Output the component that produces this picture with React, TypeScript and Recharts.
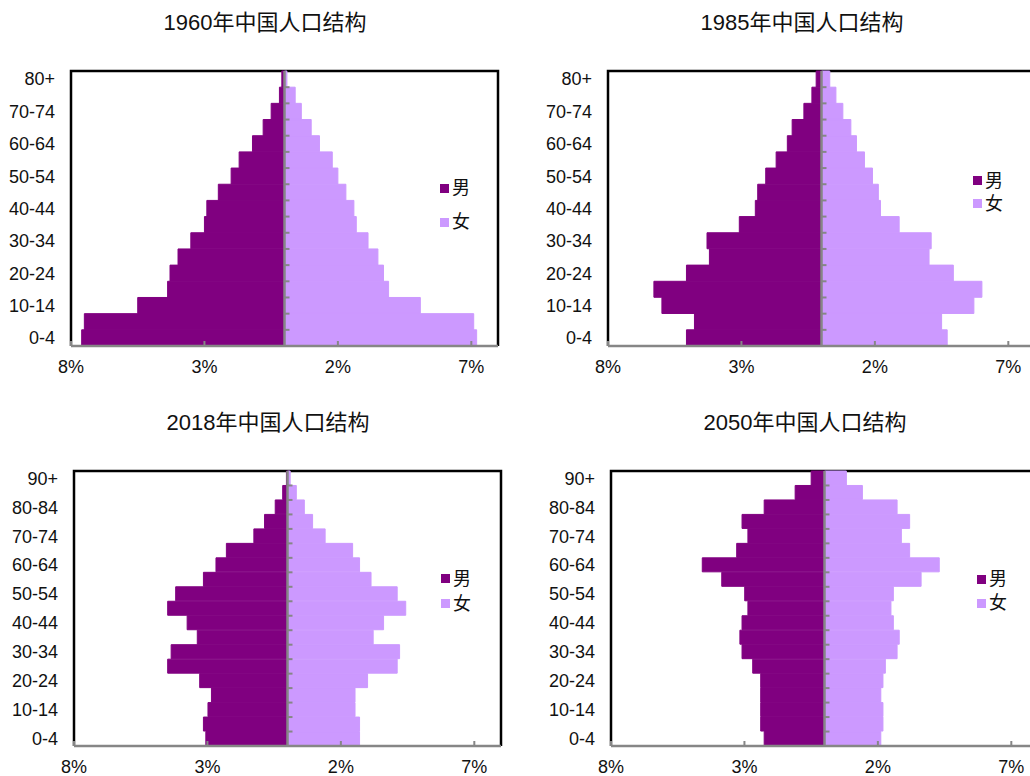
import React from "react";
import {
  BarChart,
  Bar,
  XAxis,
  YAxis,
  ReferenceLine,
  ReferenceArea,
  Legend,
} from "recharts";

// age groups, bottom to top
const ages17 = [
  "0-4", "5-9", "10-14", "15-19", "20-24", "25-29", "30-34", "35-39", "40-44",
  "45-49", "50-54", "55-59", "60-64", "65-69", "70-74", "75-79", "80+",
];
const ages19 = [
  "0-4", "5-9", "10-14", "15-19", "20-24", "25-29", "30-34", "35-39", "40-44",
  "45-49", "50-54", "55-59", "60-64", "65-69", "70-74", "75-79", "80-84",
  "85-89", "90+",
];

// male shares are negative so they sit left of the axis
const male1960 = [-7.6, -7.5, -5.5, -4.38, -4.29, -3.99, -3.51, -3.0, -2.91, -2.48, -2.0, -1.7, -1.2, -0.8, -0.5, -0.19, -0.1];
const female1960 = [7.2, 7.09, 5.09, 3.9, 3.71, 3.5, 3.13, 2.69, 2.6, 2.3, 2.0, 1.79, 1.31, 1.0, 0.63, 0.4, 0.09];

const male1985 = [-5.06, -4.76, -5.98, -6.28, -5.06, -4.2, -4.29, -3.08, -2.48, -2.39, -2.09, -1.7, -1.28, -1.1, -0.66, -0.36, -0.2];
const female1985 = [4.71, 4.5, 5.71, 6.01, 4.94, 4.03, 4.11, 2.91, 2.21, 2.13, 1.91, 1.61, 1.31, 1.1, 0.8, 0.54, 0.31];

const male2018 = [-3.06, -3.15, -2.98, -2.85, -3.29, -4.49, -4.36, -3.38, -3.76, -4.49, -4.19, -3.15, -2.68, -2.29, -1.26, -0.86, -0.46, -0.18, -0.04];
const female2018 = [2.7, 2.7, 2.53, 2.53, 3.0, 4.11, 4.2, 3.21, 3.6, 4.43, 4.11, 3.13, 2.7, 2.44, 1.41, 0.94, 0.63, 0.33, 0.1];

const male2050 = [-2.26, -2.39, -2.39, -2.39, -2.39, -2.69, -3.09, -3.17, -3.09, -2.87, -2.99, -3.85, -4.58, -3.29, -2.87, -3.09, -2.26, -1.1, -0.5];
const female2050 = [2.11, 2.19, 2.19, 2.11, 2.19, 2.28, 2.72, 2.8, 2.58, 2.49, 2.58, 3.62, 4.3, 3.19, 2.88, 3.19, 2.72, 1.42, 0.82];

const xTicks = [-8, -3, 2, 7];

const MALE = "#800080";
const FEMALE = "#CC99FF";
const GRAY = "#868686";
const FONT = "'Liberation Sans', Arial, 'Noto Sans CJK SC', sans-serif";

const XTick = (props: any) => {
  const { x, y, payload } = props;
  return (
    <g>
      <line x1={x} x2={x} y1={y} y2={y - 5} stroke={GRAY} strokeWidth={2} />
      <text x={x} y={y + 27} textAnchor="middle" fontSize={18} fill="#111">
        {Math.abs(payload.value)}%
      </text>
    </g>
  );
};

// plot border: top, left and right only (the x axis closes the bottom)
const Frame = (props: any) => {
  const { x, y, width, height } = props;
  return (
    <path
      d={`M${x},${y + height} L${x},${y} L${x + width},${y} L${x + width},${y + height}`}
      fill="none"
      stroke="#000"
      strokeWidth={2.5}
    />
  );
};

const centerLine = (n: number) => (props: any) => {
  const { x1, y1, y2 } = props;
  const top = Math.min(y1, y2);
  const bottom = Math.max(y1, y2);
  const step = (bottom - top) / n;
  const marks = [];
  for (let i = 1; i < n; i++) {
    const yy = top + i * step;
    marks.push(<line key={i} x1={x1} x2={x1 + 5} y1={yy} y2={yy} stroke={GRAY} strokeWidth={2} />);
  }
  return (
    <g>
      <line x1={x1} x2={x1} y1={top} y2={bottom} stroke={GRAY} strokeWidth={2.5} />
      {marks}
    </g>
  );
};

const legendContent = (gap: number) => (props: any) => {
  const items = [...(props.payload || [])].sort((a: any) => (a.dataKey === "male" ? -1 : 1));
  return (
    <div>
      {items.map((e: any) => (
        <div key={e.value} style={{ display: "flex", alignItems: "center", height: gap }}>
          <span style={{ width: 9, height: 9, background: e.color, marginRight: 3, display: "inline-block" }} />
          <span style={{ fontSize: 18, lineHeight: "18px", color: "#111" }}>{e.value}</span>
        </div>
      ))}
    </div>
  );
};

type PanelProps = {
  title: string;
  ages: string[];
  male: number[];
  female: number[];
  left: number;
  top: number;
  legendLeft: number;
  legendTop: number;
  legendGap: number;
};

const Pyramid = (p: PanelProps) => {
  const rows = p.ages.map((age, i) => ({ age, male: p.male[i], female: p.female[i] }));
  return (
    <div style={{ position: "absolute", left: p.left, top: p.top }}>
      <div
        style={{
          position: "absolute",
          left: 115,
          top: 8,
          width: 300,
          textAlign: "center",
          fontSize: 22,
          lineHeight: "30px",
          color: "#111",
          zIndex: 2,
        }}
      >
        {p.title}
      </div>
      <BarChart
        width={520}
        height={400}
        data={rows}
        layout="vertical"
        stackOffset="sign"
        barCategoryGap={0}
        margin={{ top: 71, right: 22, bottom: 24, left: 0 }}
      >
        <XAxis
          type="number"
          domain={[-8, 8]}
          ticks={xTicks}
          interval={0}
          allowDataOverflow
          height={30}
          axisLine={{ stroke: GRAY, strokeWidth: 2.5 }}
          tickLine={false}
          tickSize={0}
          tickMargin={0}
          tick={<XTick />}
        />
        <YAxis
          type="category"
          dataKey="age"
          reversed
          width={71}
          interval={1}
          axisLine={false}
          tickLine={false}
          tickSize={0}
          tickMargin={16}
          tick={{ fontSize: 18, fill: "#111" }}
        />
        <ReferenceArea x1={-8} x2={8} shape={Frame} ifOverflow="visible" />
        <Bar dataKey="male" name="男" stackId="a" fill={MALE} stroke={MALE} strokeWidth={1} isAnimationActive={false} />
        <Bar dataKey="female" name="女" stackId="a" fill={FEMALE} stroke={FEMALE} strokeWidth={1} isAnimationActive={false} />
        <ReferenceLine x={0} shape={centerLine(p.ages.length)} />
        <Legend
          layout="vertical"
          align="center"
          verticalAlign="middle"
          content={legendContent(p.legendGap)}
          wrapperStyle={{ left: p.legendLeft, top: p.legendTop, width: "auto", height: "auto" }}
        />
      </BarChart>
    </div>
  );
};

export default function App() {
  return (
    <div
      style={{
        position: "absolute",
        left: 0,
        top: 0,
        width: 1030,
        height: 776,
        overflow: "hidden",
        background: "#fff",
        fontFamily: FONT,
      }}
    >
      <Pyramid title="1960年中国人口结构" ages={ages17} male={male1960} female={female1960}
        left={0} top={0} legendLeft={440} legendTop={171} legendGap={34} />
      <Pyramid title="1985年中国人口结构" ages={ages17} male={male1985} female={female1985}
        left={537} top={0} legendLeft={436} legendTop={169} legendGap={23} />
      <Pyramid title="2018年中国人口结构" ages={ages19} male={male2018} female={female2018}
        left={3} top={400} legendLeft={438} legendTop={166} legendGap={25} />
      <Pyramid title="2050年中国人口结构" ages={ages19} male={male2050} female={female2050}
        left={540} top={400} legendLeft={437} legendTop={167} legendGap={24} />
    </div>
  );
}
